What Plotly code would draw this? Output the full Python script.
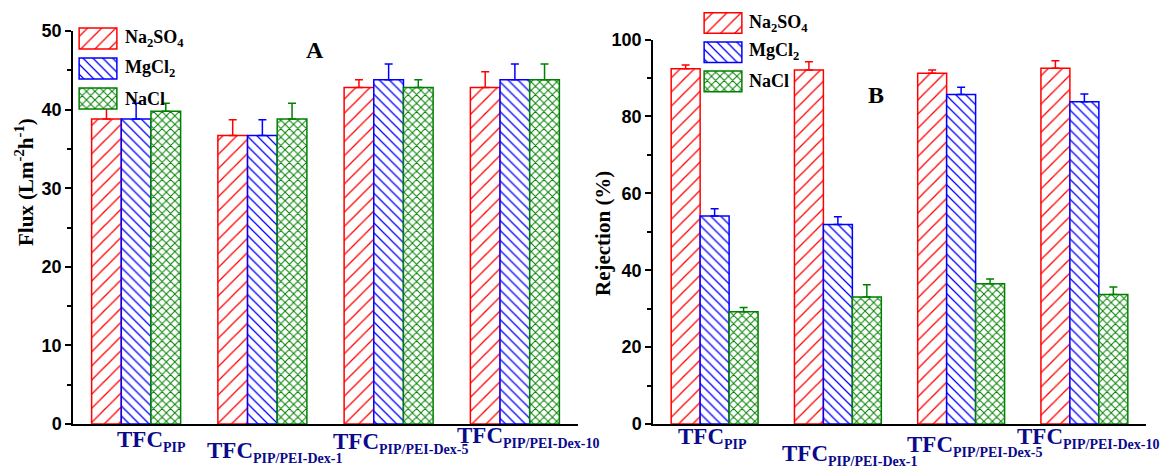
import plotly.graph_objects as go

# ---------------- data ----------------
categories = ["PIP", "PIP/PEI-Dex-1", "PIP/PEI-Dex-5", "PIP/PEI-Dex-10"]
series_names = ["Na2SO4", "MgCl2", "NaCl"]
series_labels = ["Na<sub>2</sub>SO<sub>4</sub>", "MgCl<sub>2</sub>", "NaCl"]

flux_na2so4 = [38.8, 36.7, 42.8, 42.8]
flux_mgcl2 = [38.8, 36.7, 43.8, 43.8]
flux_nacl = [39.8, 38.8, 42.8, 43.8]
flux_err_na2so4 = [2.0, 2.0, 1.0, 2.0]
flux_err_mgcl2 = [2.0, 2.0, 2.0, 2.0]
flux_err_nacl = [1.0, 2.0, 1.0, 2.0]

rej_na2so4 = [92.4, 92.1, 91.2, 92.5]
rej_mgcl2 = [54.1, 51.9, 85.7, 83.8]
rej_nacl = [29.2, 33.0, 36.5, 33.7]
rej_err_na2so4 = [1.0, 2.1, 0.9, 2.0]
rej_err_mgcl2 = [1.9, 2.0, 1.9, 2.0]
rej_err_nacl = [1.1, 3.2, 1.2, 1.9]

# ---------------- styles ----------------
W, H = 1163, 470
colors = ["#ff0000", "#0000ff", "#008000"]
shapes_pat = ["/", "\\", "x"]
pat_size = [10, 7, 6]
pat_solid = [0.13, 0.18, 0.3]
SERIF = "Liberation Serif"
SANS = "Liberation Sans"
LABEL_COLOR = "#0a0a8a"


def px_x(p):
    return p / W


def px_y(p):
    return 1 - p / H


fig = go.Figure()

flux_vals = [flux_na2so4, flux_mgcl2, flux_nacl]
flux_errs = [flux_err_na2so4, flux_err_mgcl2, flux_err_nacl]
rej_vals = [rej_na2so4, rej_mgcl2, rej_nacl]
rej_errs = [rej_err_na2so4, rej_err_mgcl2, rej_err_nacl]


def bar_marker(i):
    return dict(color="white",
                line=dict(color=colors[i], width=1.5),
                pattern=dict(shape=shapes_pat[i], fgcolor=colors[i], bgcolor="white",
                             size=pat_size[i], solidity=pat_solid[i], fillmode="replace"))


def add_bars(vals, errs, xa, ya):
    for i in range(3):
        fig.add_trace(go.Bar(
            x=categories, y=vals[i], name=series_names[i], xaxis=xa, yaxis=ya,
            showlegend=False, marker=bar_marker(i),
            error_y=dict(type="data", symmetric=False, array=errs[i], arrayminus=[0] * len(errs[i]),
                         color=colors[i], thickness=1.5, width=4),
        ))


add_bars(flux_vals, flux_errs, "x", "y")
add_bars(rej_vals, rej_errs, "x2", "y2")


# legend swatches drawn as bars on small hidden axes
def add_swatches(xa, ya):
    for i in range(3):
        fig.add_trace(go.Bar(
            x=[1], y=[i], orientation="h", base=0, xaxis=xa, yaxis=ya, showlegend=False,
            offsetgroup="legend", hoverinfo="skip", marker=bar_marker(i),
        ))


add_swatches("x3", "y3")
add_swatches("x4", "y4")

axis_common = dict(showline=True, linecolor="black", linewidth=1.5, showgrid=False,
                   zeroline=False, automargin=False)
yaxis_common = dict(axis_common, ticks="outside", ticklen=6, tickwidth=1.5, tickcolor="black",
                    tickfont=dict(family=SANS, size=18, color="black", weight="bold"))
minor_common = dict(ticks="outside", ticklen=4, tickwidth=1.5, tickcolor="black", showgrid=False)
hidden = dict(visible=False, automargin=False, showgrid=False, zeroline=False)

fig.update_layout(
    template="none",
    width=W, height=H, margin=dict(l=0, r=0, t=0, b=0, pad=0, autoexpand=False),
    paper_bgcolor="white", plot_bgcolor="rgba(0,0,0,0)",
    barmode="group", bargap=0.295, bargroupgap=0,
    showlegend=False,
    xaxis=dict(axis_common, domain=[px_x(73), px_x(578)], anchor="y", type="category",
               categoryorder="array", categoryarray=categories, range=[-0.5, 3.5],
               ticks="", showticklabels=False),
    yaxis=dict(yaxis_common, domain=[px_y(424), px_y(31)], anchor="x", range=[0, 50],
               tickvals=[0, 10, 20, 30, 40, 50], minor=dict(minor_common, dtick=5)),
    xaxis2=dict(axis_common, domain=[px_x(653), px_x(1146)], anchor="y2", type="category",
                categoryorder="array", categoryarray=categories, range=[-0.5, 3.5],
                ticks="", showticklabels=False),
    yaxis2=dict(yaxis_common, domain=[px_y(424), px_y(39.5)], anchor="x2", range=[0, 100],
                tickvals=[0, 20, 40, 60, 80, 100], minor=dict(minor_common, dtick=10)),
    xaxis3=dict(hidden, domain=[px_x(78), px_x(118)], anchor="y3", range=[-0.03, 1.03]),
    yaxis3=dict(hidden, domain=[px_y(113.5), px_y(23.5)], anchor="x3", range=[2.5, -0.5]),
    xaxis4=dict(hidden, domain=[px_x(703), px_x(743)], anchor="y4", range=[-0.03, 1.03]),
    yaxis4=dict(hidden, domain=[px_y(96), px_y(8.4)], anchor="x4", range=[2.5, -0.5]),
)

annotations = []

# category labels (staggered as in the original)
label_tops_a = [424.7, 435.7, 427, 421]
label_tops_b = [422, 439, 430, 422]
label_shift_a = [15, 12, 12, 13]
label_shift_b = [-2, 12, 13, 4]
for xa, tops, shifts in (("x", label_tops_a, label_shift_a), ("x2", label_tops_b, label_shift_b)):
    for c, t, s in zip(categories, tops, shifts):
        annotations.append(dict(
            x=c, xref=xa, y=px_y(t), yref="paper", yanchor="top", xanchor="center", xshift=s,
            showarrow=False,
            text=f"TFC<sub><span style='font-size:14px'>{c}</span></sub>",
            font=dict(family=SERIF, size=23, color=LABEL_COLOR, weight="bold"),
        ))

# legend texts
for rows, x0 in (([38.5, 68.5, 98.5], 123), ([23, 52, 81.4], 747)):
    for lab, r in zip(series_labels, rows):
        annotations.append(dict(
            x=px_x(x0), y=px_y(r), xref="paper", yref="paper", xanchor="left", yanchor="middle",
            showarrow=False, text=lab,
            font=dict(family=SERIF, size=18, color="black", weight="bold"),
        ))

# panel letters
annotations.append(dict(x=px_x(315), y=px_y(50), xref="paper", yref="paper", showarrow=False,
                        xanchor="center", yanchor="middle",
                        text="A", font=dict(family=SERIF, size=24, color="black", weight="bold")))
annotations.append(dict(x=px_x(876), y=px_y(95), xref="paper", yref="paper", showarrow=False,
                        xanchor="center", yanchor="middle",
                        text="B", font=dict(family=SERIF, size=24, color="black", weight="bold")))

# axis titles
annotations.append(dict(x=px_x(24), y=px_y(182), xref="paper", yref="paper", showarrow=False,
                        xanchor="center", yanchor="middle",
                        textangle=-90, text="Flux (Lm<sup>-2</sup>h<sup>-1</sup>)",
                        font=dict(family=SERIF, size=21, color="black", weight="bold")))
annotations.append(dict(x=px_x(603), y=px_y(234), xref="paper", yref="paper", showarrow=False,
                        xanchor="center", yanchor="middle",
                        textangle=-90, text="Rejection (%)",
                        font=dict(family=SERIF, size=21, color="black", weight="bold")))

fig.update_layout(annotations=annotations)

fig.write_html("out.html", post_script="document.body.style.margin='0';")
